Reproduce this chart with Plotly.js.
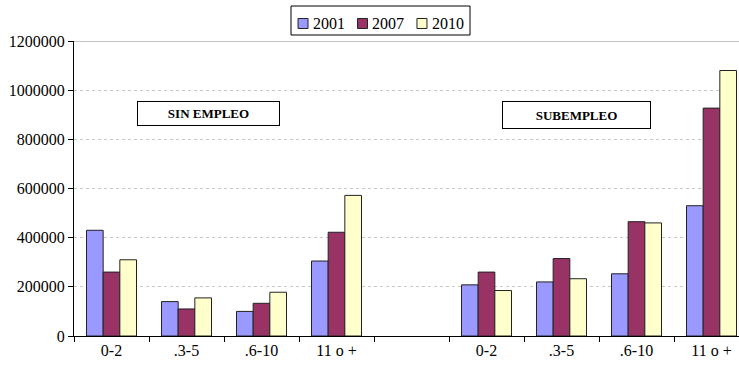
<!DOCTYPE html>
<html><head><meta charset="utf-8">
<script src="https://cdn.plot.ly/plotly-3.0.1.min.js"></script>
<style>html,body{margin:0;padding:0;overflow:hidden;width:739px;height:367px;background:#fff}</style>
</head><body>
<div id="chart" style="width:750px;height:367px"></div>
<script>
const groupLabels = ["0-2", ".3-5", ".6-10", "11 o +"];
const seriesNames = ["2001", "2007", "2010"];
const sinEmpleo2001 = [430000, 140000, 100000, 305000];
const sinEmpleo2007 = [260000, 110000, 133000, 422000];
const sinEmpleo2010 = [310000, 155000, 178000, 572000];
const subempleo2001 = [208000, 220000, 253000, 530000];
const subempleo2007 = [260000, 315000, 465000, 927000];
const subempleo2010 = [185000, 233000, 460000, 1080000];
const colors = ["#9999FF", "#993366", "#FFFFCC"];

const cats = [];
const catLabels = [];
groupLabels.forEach(l => { cats.push("SE " + l); catLabels.push(l); });
cats.push("gap"); catLabels.push("");
groupLabels.forEach(l => { cats.push("SUB " + l); catLabels.push(l); });

function seriesY(a, b) { return a.concat([null], b); }
const ys = [
  seriesY(sinEmpleo2001, subempleo2001),
  seriesY(sinEmpleo2007, subempleo2007),
  seriesY(sinEmpleo2010, subempleo2010)
];

const traces = seriesNames.map((n, i) => ({
  type: "bar", name: n, x: cats, y: ys[i], showlegend: false,
  marker: {color: colors[i], line: {color: "#222", width: 1}}
}));

const font = "'Liberation Serif', 'Times New Roman', Times, serif";

// custom legend (box, swatches, labels) in paper coordinates
const shapes = [
  {type: "line", xref: "paper", yref: "y", x0: 0, x1: 1, y0: 1200000, y1: 1200000,
   line: {color: "#888", width: 1}},
  {type: "rect", xref: "paper", yref: "paper", x0: 0.3215, x1: 0.5867, y0: 1.0203, y1: 1.1186,
   line: {color: "#000", width: 1}, fillcolor: "#fff"}
];
const legendSwatchX = [0.3319, 0.4200, 0.5081];
const annotations = [];
seriesNames.forEach((n, i) => {
  shapes.push({type: "rect", xref: "paper", yref: "paper",
    x0: legendSwatchX[i], x1: legendSwatchX[i] + 0.0148, y0: 1.0424, y1: 1.0763,
    line: {color: "#222", width: 1}, fillcolor: colors[i]});
  annotations.push({text: n, xref: "paper", yref: "paper",
    x: legendSwatchX[i] + 0.0207, y: 1.0593, xanchor: "left", yanchor: "middle",
    showarrow: false, font: {family: font, size: 16}, borderpad: 0});
});
annotations.push(
  {text: "<b>SIN EMPLEO</b>", xref: "paper", yref: "paper", x: 0.1993, y: 0.754,
   xanchor: "center", yanchor: "middle",
   showarrow: false, font: {family: font, size: 13}, bordercolor: "#000", borderwidth: 1,
   borderpad: 2, width: 137, height: 19, bgcolor: "#fff"},
  {text: "<b>SUBEMPLEO</b>", xref: "paper", yref: "paper", x: 0.7444, y: 0.749,
   xanchor: "center", yanchor: "middle",
   showarrow: false, font: {family: font, size: 13}, bordercolor: "#000", borderwidth: 1,
   borderpad: 2, width: 143, height: 22, bgcolor: "#fff"}
);

const layout = {
  width: 750, height: 367,
  margin: {l: 74, r: 1, t: 41, b: 31},
  paper_bgcolor: "#fff", plot_bgcolor: "#fff",
  font: {family: font, size: 16, color: "#000"},
  barmode: "group", bargap: 1/3, bargroupgap: 0,
  showlegend: false,
  xaxis: {type: "category", categoryorder: "array", categoryarray: cats,
    tickmode: "array", tickvals: cats, ticktext: catLabels,
    tickson: "boundaries", ticks: "outside", ticklen: 5, tickcolor: "#000",
    showline: true, linecolor: "#000", linewidth: 1, showgrid: false,
    range: [-0.5, 8.5], fixedrange: true, tickfont: {family: font, size: 16}},
  yaxis: {range: [0, 1200000], tickvals: [0,200000,400000,600000,800000,1000000,1200000],
    ticktext: ["0","200000","400000","600000","800000","1000000","1200000"],
    ticks: "outside", ticklen: 5, tickcolor: "#000",
    showline: true, linecolor: "#000", linewidth: 1,
    showgrid: true, gridcolor: "#c8c8c8", griddash: "dot", zeroline: false,
    tickfont: {family: font, size: 16}},
  annotations: annotations,
  shapes: shapes
};
Plotly.newPlot("chart", traces, layout, {displayModeBar: false, staticPlot: true});
</script>
</body></html>
